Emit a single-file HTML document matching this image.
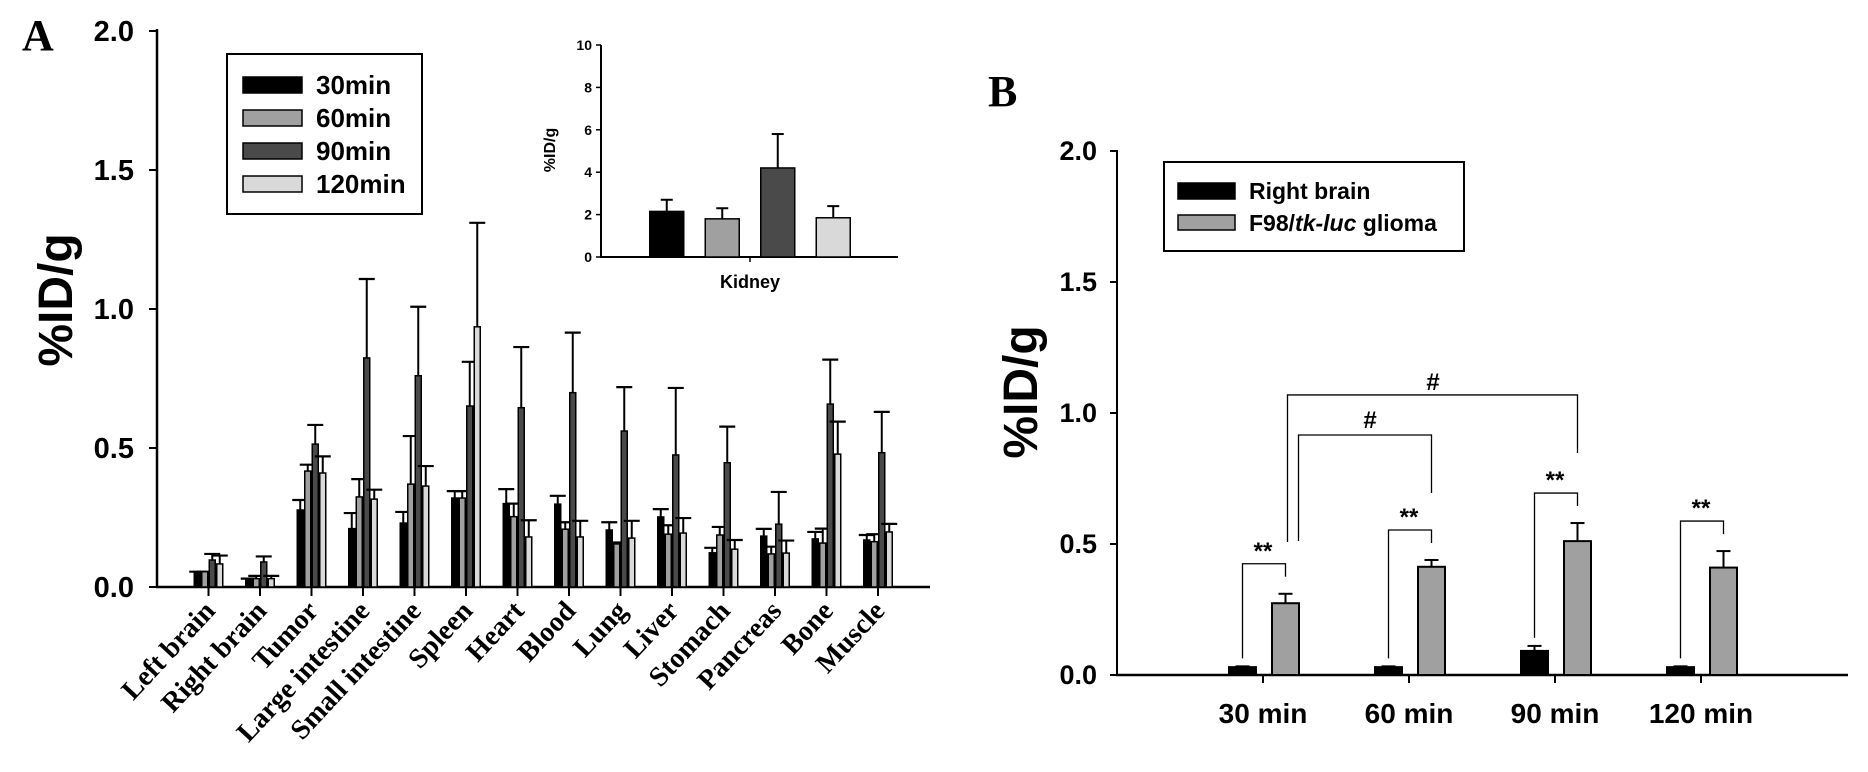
<!DOCTYPE html>
<html><head><meta charset="utf-8"><style>
html,body{margin:0;padding:0;background:#fff;}
svg{display:block;font-family:"Liberation Sans",sans-serif;}
</style></head><body>
<svg id="fig" width="1868" height="772" viewBox="0 0 1868 772" xmlns="http://www.w3.org/2000/svg">
<g id="panelA"></g>
<g id="inset"></g>
<g id="panelB"></g>
</svg>
<script>
// ---- Panel A data ----
const organs = ["Left brain","Right brain","Tumor","Large intestine","Small intestine","Spleen","Heart","Blood","Lung","Liver","Stomach","Pancreas","Bone","Muscle"];
const seriesA = ["30min","60min","90min","120min"];
const v30  = [0.055,0.03,0.277,0.21,0.23,0.32,0.30,0.298,0.205,0.252,0.123,0.183,0.173,0.169];
const e30  = [0.055,0.03,0.313,0.266,0.27,0.345,0.352,0.328,0.233,0.28,0.141,0.209,0.198,0.187];
const v60  = [0.055,0.03,0.417,0.324,0.37,0.32,0.253,0.208,0.155,0.19,0.187,0.119,0.158,0.163];
const e60  = [0.055,0.04,0.44,0.388,0.543,0.345,0.30,0.233,0.16,0.222,0.216,0.145,0.21,0.19];
const v90  = [0.097,0.09,0.514,0.824,0.76,0.651,0.645,0.699,0.561,0.475,0.447,0.226,0.658,0.483];
const e90  = [0.119,0.11,0.583,1.108,1.008,0.81,0.863,0.915,0.719,0.716,0.577,0.342,0.818,0.63];
const v120 = [0.083,0.03,0.41,0.316,0.363,0.936,0.18,0.18,0.176,0.194,0.136,0.122,0.478,0.198];
const e120 = [0.113,0.04,0.47,0.35,0.435,1.31,0.24,0.238,0.238,0.248,0.169,0.167,0.595,0.227];
const ticksA = ["0.0","0.5","1.0","1.5","2.0"];
// ---- Inset data ----
const kidneyVals = [2.15,1.8,4.2,1.85];
const kidneyErr  = [2.7,2.3,5.8,2.4];
const ticksInset = ["0","2","4","6","8","10"];
// ---- Panel B data ----
const timesB = ["30 min","60 min","90 min","120 min"];
const rbVals = [0.03,0.03,0.092,0.03];
const rbErr  = [0.033,0.033,0.111,0.033];
const glVals = [0.274,0.413,0.511,0.41];
const glErr  = [0.31,0.439,0.58,0.473];
const ticksB = ["0.0","0.5","1.0","1.5","2.0"];

const NS="http://www.w3.org/2000/svg";
function mk(parent,tag,attrs,text){const e=document.createElementNS(NS,tag);for(const k in attrs)e.setAttribute(k,attrs[k]);if(text!==undefined)e.textContent=text;parent.appendChild(e);return e;}
const fillsA=["#000000","#a0a0a0","#4a4a4a","#d9d9d9"];

// ===== Panel A =====
const A=document.getElementById('panelA');
const yA=v=>587-v*278;
const xA=i=>157+51.5*(i+1);
let t=mk(A,'text',{x:22,y:50,'font-family':'Liberation Serif, serif','font-weight':'bold','font-size':44},'A');


let ax=mk(A,'line',{x1:157,y1:29,x2:157,y2:588,stroke:'#000','stroke-width':2.5});


ax=mk(A,'line',{x1:156,y1:587,x2:930,y2:587,stroke:'#000','stroke-width':2.5});


ticksA.forEach(s=>{const v=parseFloat(s);
  mk(A,'line',{x1:149,y1:yA(v),x2:157,y2:yA(v),stroke:'#000','stroke-width':2});
  const e=mk(A,'text',{x:134,y:yA(v)+10,'text-anchor':'end','font-weight':'bold','font-size':29},s);
  
  
});
const yl=mk(A,'text',{x:0,y:0,transform:'translate(72,300) rotate(-90)','text-anchor':'middle','font-weight':'bold','font-size':48},'%ID/g');


const valsA=[v30,v60,v90,v120], errsA=[e30,e60,e90,e120];
organs.forEach((o,i)=>{
  const cx=xA(i);
  mk(A,'line',{x1:cx,y1:587,x2:cx,y2:596,stroke:'#000','stroke-width':2});
  for(let j=0;j<4;j++){
    const bx=cx-11.25+7.5*j;
    const v=valsA[j][i], er=errsA[j][i];
    const el=mk(A,'line',{x1:bx,y1:yA(v),x2:bx,y2:yA(er),stroke:'#000','stroke-width':2});
    
    
    mk(A,'line',{x1:bx-8,y1:yA(er),x2:bx+8,y2:yA(er),stroke:'#000','stroke-width':2.2});
    const r=mk(A,'rect',{x:bx-3,y:yA(v),width:6,height:587-yA(v),fill:fillsA[j],stroke:'#000','stroke-width':1.5});
    
    
  }
  const lb=mk(A,'text',{x:0,y:0,transform:'translate('+(cx+8)+',612) rotate(-47)','text-anchor':'end','font-family':'Liberation Serif, serif','font-weight':'bold','font-size':28},o);
  
  
});
// legend A
const lgA=mk(A,'g',{});


mk(lgA,'rect',{x:227,y:54,width:195,height:160,fill:'#fff',stroke:'#000','stroke-width':2});
seriesA.forEach((s,j)=>{
  const cy=85+33*j;
  const sw=mk(lgA,'rect',{x:243,y:cy-8,width:59,height:16,fill:fillsA[j],stroke:'#000','stroke-width':1.5});
  
  
  const tx=mk(lgA,'text',{x:316,y:cy+9,'font-weight':'bold','font-size':26},s);
  
  
});

// ===== Inset =====
const I=document.getElementById('inset');
const yI=v=>257-v*21.2;
mk(I,'line',{x1:601,y1:45,x2:601,y2:258,stroke:'#000','stroke-width':2});
mk(I,'line',{x1:600,y1:257,x2:898,y2:257,stroke:'#000','stroke-width':2});
mk(I,'line',{x1:750,y1:257,x2:750,y2:262,stroke:'#000','stroke-width':1.5});
ticksInset.forEach(s=>{const v=parseFloat(s);
  mk(I,'line',{x1:596,y1:yI(v),x2:601,y2:yI(v),stroke:'#000','stroke-width':1.5});
  const e=mk(I,'text',{x:592,y:yI(v)+5,'text-anchor':'end','font-weight':'bold','font-size':14},s);
  
  
});
let it=mk(I,'text',{x:0,y:0,transform:'translate(555,150) rotate(-90)','text-anchor':'middle','font-weight':'bold','font-size':16},'%ID/g');


it=mk(I,'text',{x:750,y:288,'text-anchor':'middle','font-weight':'bold','font-size':18},'Kidney');


kidneyVals.forEach((v,j)=>{
  const cx=750+(j-1.5)*55.5;
  mk(I,'line',{x1:cx,y1:yI(v),x2:cx,y2:yI(kidneyErr[j]),stroke:'#000','stroke-width':2});
  mk(I,'line',{x1:cx-6,y1:yI(kidneyErr[j]),x2:cx+6,y2:yI(kidneyErr[j]),stroke:'#000','stroke-width':2});
  const r=mk(I,'rect',{x:cx-17,y:yI(v),width:34,height:257-yI(v),fill:fillsA[j],stroke:'#000','stroke-width':1.5});
  
  
});

// ===== Panel B =====
const B=document.getElementById('panelB');
const yB=v=>675-v*262;
const xB=i=>1117+146*(i+1);
t=mk(B,'text',{x:988,y:106,'font-family':'Liberation Serif, serif','font-weight':'bold','font-size':44},'B');


ax=mk(B,'line',{x1:1117,y1:150,x2:1117,y2:676,stroke:'#000','stroke-width':2});


ax=mk(B,'line',{x1:1116,y1:675,x2:1848,y2:675,stroke:'#000','stroke-width':2.5});


ticksB.forEach(s=>{const v=parseFloat(s);
  mk(B,'line',{x1:1110,y1:yB(v),x2:1117,y2:yB(v),stroke:'#000','stroke-width':2});
  const e=mk(B,'text',{x:1097,y:yB(v)+9,'text-anchor':'end','font-weight':'bold','font-size':27},s);
  
  
});
const ylb=mk(B,'text',{x:0,y:0,transform:'translate(1037,392) rotate(-90)','text-anchor':'middle','font-weight':'bold','font-size':48},'%ID/g');


function path(d,name){const p=mk(B,'path',{d:d,fill:'none',stroke:'#000','stroke-width':1.3});return p;}
timesB.forEach((s,i)=>{
  const cx=xB(i);
  mk(B,'line',{x1:cx,y1:675,x2:cx,y2:683,stroke:'#000','stroke-width':2});
  const bxs=[cx-20.5,cx+22.5], vals=[rbVals[i],glVals[i]], errs=[rbErr[i],glErr[i]], fl=['#000','#a0a0a0'];
  for(let j=0;j<2;j++){
    mk(B,'line',{x1:bxs[j],y1:yB(vals[j]),x2:bxs[j],y2:yB(errs[j]),stroke:'#000','stroke-width':2});
    mk(B,'line',{x1:bxs[j]-7,y1:yB(errs[j]),x2:bxs[j]+7,y2:yB(errs[j]),stroke:'#000','stroke-width':2});
    const r=mk(B,'rect',{x:bxs[j]-13.5,y:yB(vals[j]),width:27,height:675-yB(vals[j]),fill:fl[j],stroke:'#000','stroke-width':2});
    
    
  }
  const top=yB(glErr[i])-30;
  path('M'+bxs[0]+' '+(yB(rbErr[i])-8)+' V'+top+' H'+bxs[1]+' V'+(yB(glErr[i])-17),'significance-bracket');
  const st=mk(B,'text',{x:cx,y:top-5,'text-anchor':'middle','font-weight':'bold','font-size':24},'**');
  
  
  const lb=mk(B,'text',{x:cx,y:723,'text-anchor':'middle','font-weight':'bold','font-size':28},s);
  
  
});
// # brackets
const g0=xB(0)+22.5;
path('M'+(g0+13)+' '+541+' V'+yB(0.916)+' H'+(xB(1)+22.5)+' V493','hash-bracket-60');
path('M'+(g0+2)+' '+542+' V'+yB(1.069)+' H'+(xB(2)+22.5)+' V453','hash-bracket-90');
let hs=mk(B,'text',{x:1370,y:428,'text-anchor':'middle','font-weight':'bold','font-size':24},'#');


hs=mk(B,'text',{x:1433,y:390,'text-anchor':'middle','font-weight':'bold','font-size':24},'#');


// legend B
const lgB=mk(B,'g',{});


mk(lgB,'rect',{x:1164,y:162,width:300,height:89,fill:'#fff',stroke:'#000','stroke-width':2});
let sw=mk(lgB,'rect',{x:1178,y:183,width:57,height:16,fill:'#000',stroke:'#000','stroke-width':1.5});


sw=mk(lgB,'rect',{x:1178,y:215,width:57,height:15,fill:'#a0a0a0',stroke:'#000','stroke-width':1.5});


let le=mk(lgB,'text',{x:1249,y:199,'font-size':23,'font-weight':'bold'},'Right brain');


le=mk(lgB,'text',{x:1249,y:231,'font-size':23,'font-weight':'bold'});


mk(le,'tspan',{},'F98/');
mk(le,'tspan',{'font-style':'italic'},'tk-luc');
mk(le,'tspan',{},' glioma');
</script>
</body></html>
